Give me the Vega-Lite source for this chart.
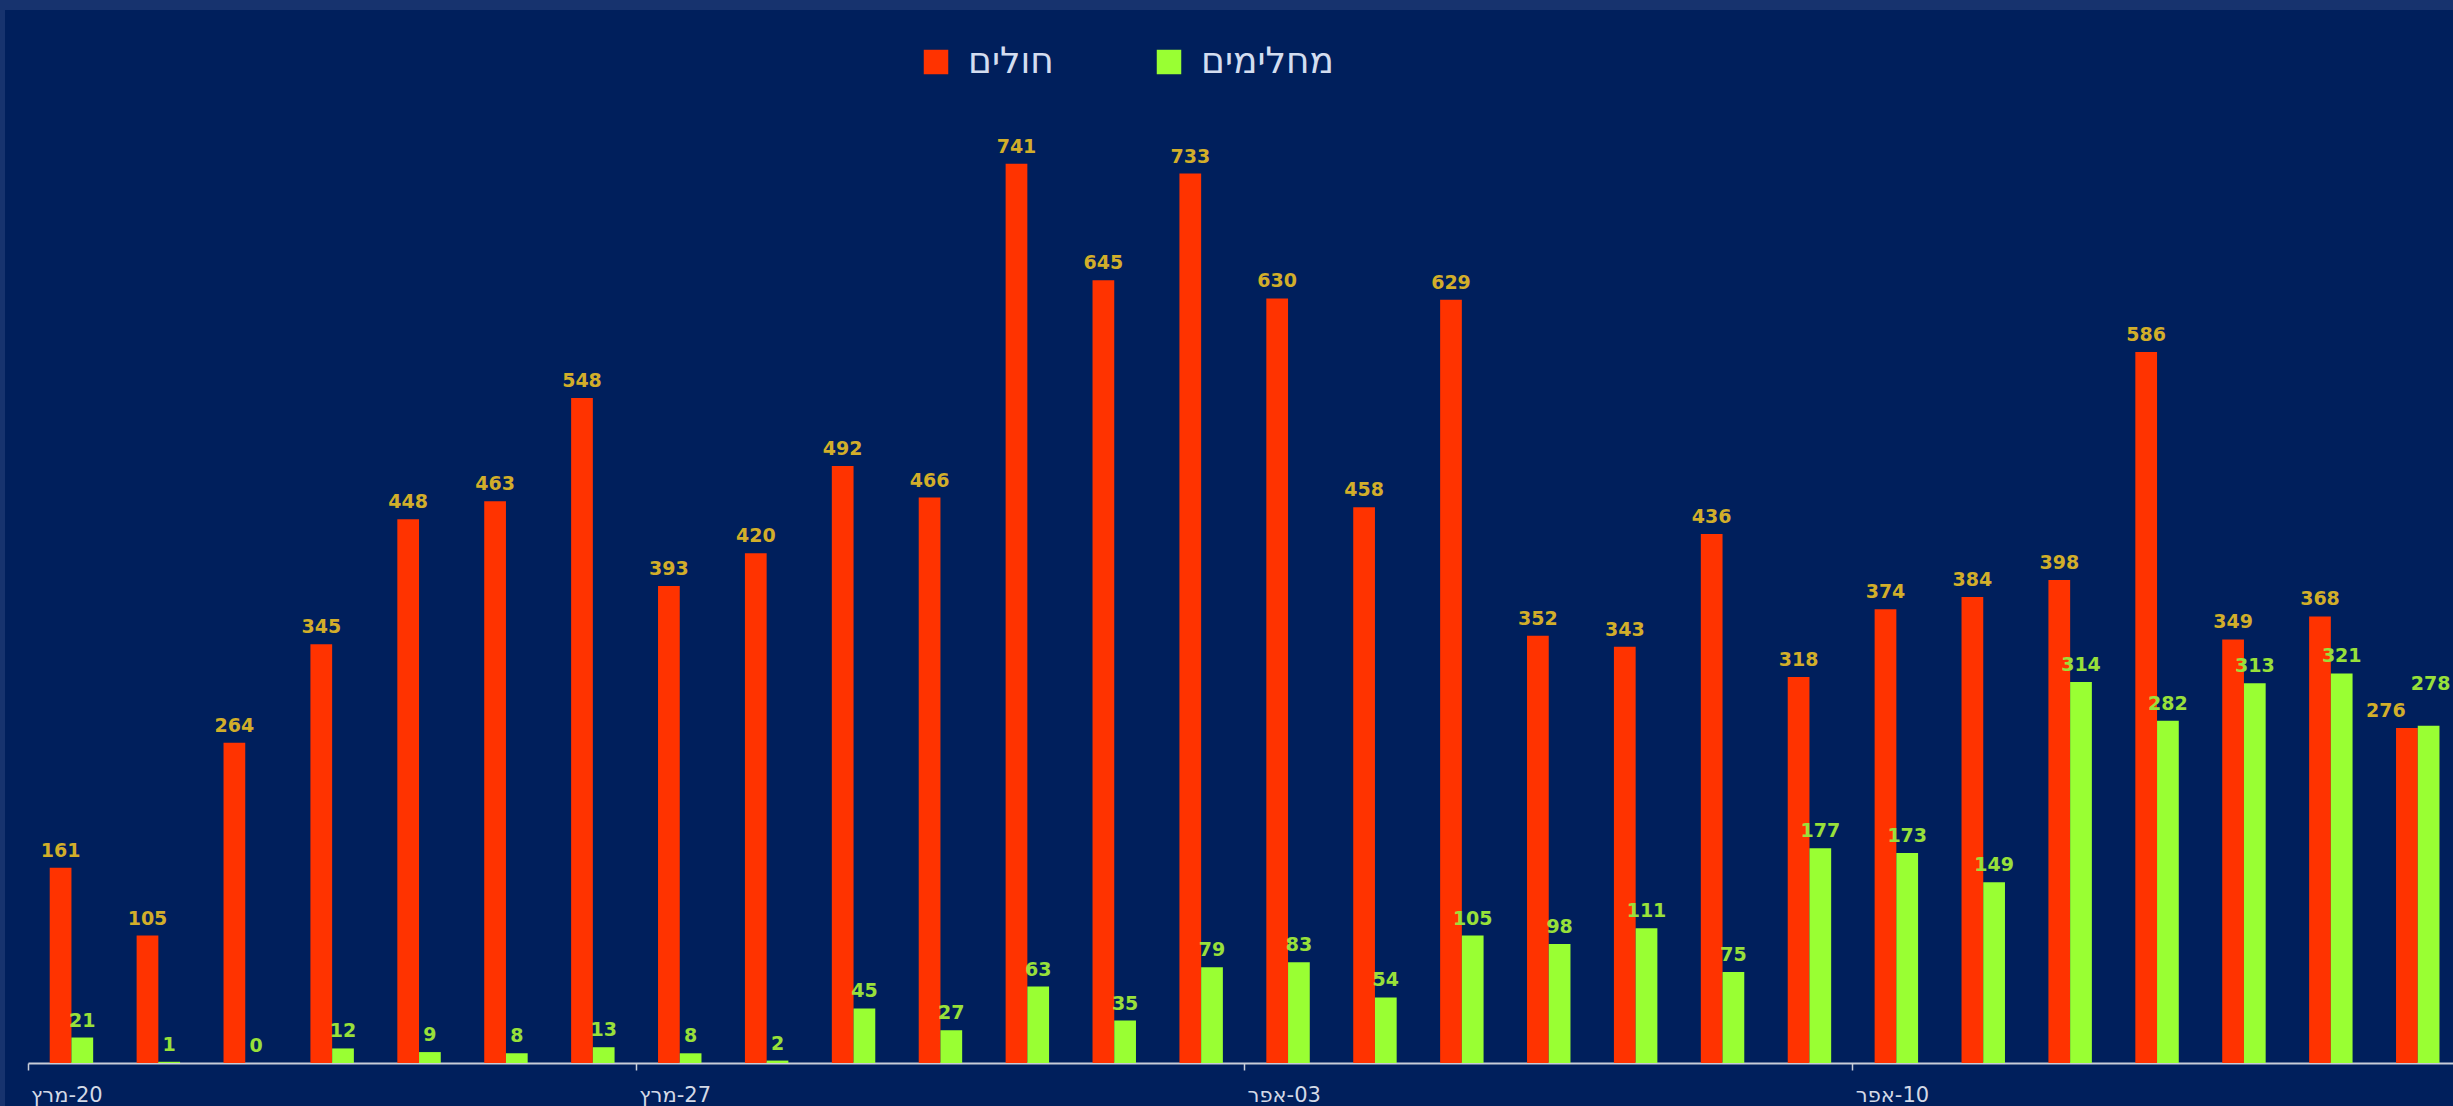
{
  "$schema": "https://vega.github.io/schema/vega-lite/v6.json",
  "width": 2448,
  "height": 1096,
  "autosize": {"type": "none"},
  "padding": {"left": 5, "top": 10, "right": 0, "bottom": 0},
  "background": "#17336e",
  "config": {
    "view": {"fill": "#001f5c", "stroke": null},
    "font": "DejaVu Sans"
  },
  "data": {
    "values": [
      {"date": "2020-03-20", "series": "חולים", "value": 161},
      {"date": "2020-03-21", "series": "חולים", "value": 105},
      {"date": "2020-03-22", "series": "חולים", "value": 264},
      {"date": "2020-03-23", "series": "חולים", "value": 345},
      {"date": "2020-03-24", "series": "חולים", "value": 448},
      {"date": "2020-03-25", "series": "חולים", "value": 463},
      {"date": "2020-03-26", "series": "חולים", "value": 548},
      {"date": "2020-03-27", "series": "חולים", "value": 393},
      {"date": "2020-03-28", "series": "חולים", "value": 420},
      {"date": "2020-03-29", "series": "חולים", "value": 492},
      {"date": "2020-03-30", "series": "חולים", "value": 466},
      {"date": "2020-03-31", "series": "חולים", "value": 741},
      {"date": "2020-04-01", "series": "חולים", "value": 645},
      {"date": "2020-04-02", "series": "חולים", "value": 733},
      {"date": "2020-04-03", "series": "חולים", "value": 630},
      {"date": "2020-04-04", "series": "חולים", "value": 458},
      {"date": "2020-04-05", "series": "חולים", "value": 629},
      {"date": "2020-04-06", "series": "חולים", "value": 352},
      {"date": "2020-04-07", "series": "חולים", "value": 343},
      {"date": "2020-04-08", "series": "חולים", "value": 436},
      {"date": "2020-04-09", "series": "חולים", "value": 318},
      {"date": "2020-04-10", "series": "חולים", "value": 374},
      {"date": "2020-04-11", "series": "חולים", "value": 384},
      {"date": "2020-04-12", "series": "חולים", "value": 398},
      {"date": "2020-04-13", "series": "חולים", "value": 586},
      {"date": "2020-04-14", "series": "חולים", "value": 349},
      {"date": "2020-04-15", "series": "חולים", "value": 368},
      {"date": "2020-04-16", "series": "חולים", "value": 276},
      {"date": "2020-03-20", "series": "מחלימים", "value": 21},
      {"date": "2020-03-21", "series": "מחלימים", "value": 1},
      {"date": "2020-03-22", "series": "מחלימים", "value": 0},
      {"date": "2020-03-23", "series": "מחלימים", "value": 12},
      {"date": "2020-03-24", "series": "מחלימים", "value": 9},
      {"date": "2020-03-25", "series": "מחלימים", "value": 8},
      {"date": "2020-03-26", "series": "מחלימים", "value": 13},
      {"date": "2020-03-27", "series": "מחלימים", "value": 8},
      {"date": "2020-03-28", "series": "מחלימים", "value": 2},
      {"date": "2020-03-29", "series": "מחלימים", "value": 45},
      {"date": "2020-03-30", "series": "מחלימים", "value": 27},
      {"date": "2020-03-31", "series": "מחלימים", "value": 63},
      {"date": "2020-04-01", "series": "מחלימים", "value": 35},
      {"date": "2020-04-02", "series": "מחלימים", "value": 79},
      {"date": "2020-04-03", "series": "מחלימים", "value": 83},
      {"date": "2020-04-04", "series": "מחלימים", "value": 54},
      {"date": "2020-04-05", "series": "מחלימים", "value": 105},
      {"date": "2020-04-06", "series": "מחלימים", "value": 98},
      {"date": "2020-04-07", "series": "מחלימים", "value": 111},
      {"date": "2020-04-08", "series": "מחלימים", "value": 75},
      {"date": "2020-04-09", "series": "מחלימים", "value": 177},
      {"date": "2020-04-10", "series": "מחלימים", "value": 173},
      {"date": "2020-04-11", "series": "מחלימים", "value": 149},
      {"date": "2020-04-12", "series": "מחלימים", "value": 314},
      {"date": "2020-04-13", "series": "מחלימים", "value": 282},
      {"date": "2020-04-14", "series": "מחלימים", "value": 313},
      {"date": "2020-04-15", "series": "מחלימים", "value": 321},
      {"date": "2020-04-16", "series": "מחלימים", "value": 278}
    ]
  },
  "encoding": {
    "x": {
      "field": "date",
      "type": "ordinal",
      "sort": null,
      "scale": {"type": "band", "range": [23, 2456.2], "paddingInner": 0, "paddingOuter": 0},
      "axis": {
        "title": null,
        "values": ["2020-03-20", "2020-03-27", "2020-04-03", "2020-04-10"],
        "bandPosition": 0,
        "labelExpr": "(substring(datum.value, 5, 7) == '03' ? 'מרץ' : 'אפר') + '\u200E-' + substring(datum.value, 8, 10)",
        "labelAlign": "left",
        "labelAngle": 0,
        "labelOffset": -40.5,
        "labelPadding": 14,
        "labelFontSize": 21,
        "labelFont": "DejaVu Sans",
        "labelColor": "#d3d9e6",
        "labelOverlap": false,
        "labelFlush": false,
        "tickSize": 7,
        "tickWidth": 1.5,
        "tickColor": "#c8cdd8",
        "domainColor": "#c8cdd8",
        "domainWidth": 2,
        "grid": false,
        "offset": -43
      }
    },
    "xOffset": {
      "field": "series",
      "type": "nominal",
      "sort": ["חולים", "מחלימים"],
      "scale": {"paddingInner": 0, "paddingOuter": 1}
    },
    "y": {
      "field": "value",
      "type": "quantitative",
      "scale": {"domain": [0, 800], "range": [1053, 82.2], "nice": false},
      "axis": null
    }
  },
  "layer": [
    {
      "mark": {"type": "bar"},
      "encoding": {
        "color": {
          "field": "series",
          "type": "nominal",
          "sort": ["חולים", "מחלימים"],
          "scale": {"domain": ["חולים", "מחלימים"], "range": ["#ff3300", "#99ff33"]},
          "legend": {
            "title": null,
            "orient": "none",
            "legendX": 913,
            "legendY": 34,
            "direction": "horizontal",
            "symbolType": "square",
            "symbolSize": 600,
            "symbolStrokeWidth": 0,
            "symbolOpacity": 1,
            "labelFontSize": 36,
            "labelFont": "DejaVu Sans",
            "labelColor": "#d3ddf0",
            "labelOffset": 14,
            "labelLimit": 500,
            "columnPadding": 97,
            "padding": 0
          }
        }
      }
    },
    {
      "transform": [{"filter": "datum.date != '2020-04-16'"}],
      "mark": {"type": "text", "dy": -11, "baseline": "alphabetic", "align": "center", "font": "DejaVu Sans", "fontWeight": "bold", "fontSize": 19},
      "encoding": {
        "text": {"field": "value", "type": "quantitative"},
        "color": {
          "condition": {"test": "datum.series === 'חולים'", "value": "#d2ae2a"},
          "value": "#98e03a"
        }
      }
    },
    {
      "transform": [{"filter": "datum.date == '2020-04-16' && datum.series == 'חולים'"}],
      "mark": {"type": "text", "dx": -21, "dy": -11, "baseline": "alphabetic", "align": "center", "font": "DejaVu Sans", "fontWeight": "bold", "fontSize": 19, "color": "#d2ae2a"},
      "encoding": {
        "text": {"field": "value", "type": "quantitative"}
      }
    },
    {
      "transform": [{"filter": "datum.date == '2020-04-16' && datum.series == 'מחלימים'"}],
      "mark": {"type": "text", "dx": 2, "dy": -36, "baseline": "alphabetic", "align": "center", "font": "DejaVu Sans", "fontWeight": "bold", "fontSize": 19, "color": "#98e03a"},
      "encoding": {
        "text": {"field": "value", "type": "quantitative"}
      }
    }
  ]
}
